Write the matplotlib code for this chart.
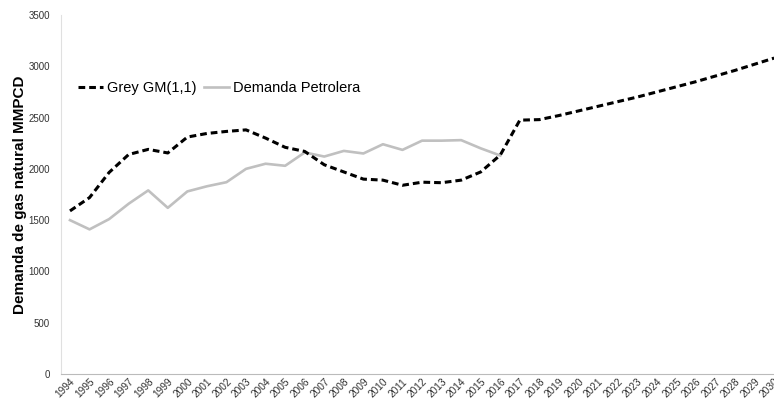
import matplotlib
matplotlib.use("Agg")
import matplotlib.pyplot as plt
import numpy as np

plt.rcParams['font.family'] = ['Liberation Sans', 'DejaVu Sans']

years = list(range(1994, 2031))
grey_gm = [1590, 1720, 1965, 2140, 2190, 2155, 2310, 2345, 2365, 2380, 2300, 2210,
           2170, 2040, 1970, 1900, 1890, 1840, 1870, 1865, 1890, 1970, 2135,
           2475, 2480, 2520, 2565, 2610, 2655, 2700, 2750, 2800, 2850, 2905,
           2960, 3020, 3080]
dem_years = list(range(1994, 2017))
demanda = [1500, 1410, 1510, 1660, 1790, 1620, 1780, 1830, 1870, 2000, 2050, 2030,
           2160, 2120, 2175, 2150, 2240, 2185, 2275, 2275, 2280, 2200, 2130]

fig = plt.figure(figsize=(7.74, 4.0), dpi=100)
ax = fig.add_axes([0.0788, 0.065, 0.934, 0.8975])

ax.plot(dem_years, demanda, color='#c0c0c0', lw=1.9, label='Demanda Petrolera', zorder=2)
ax.plot(years, grey_gm, color='black', lw=2.2, ls=(0, (2.2, 1.3)), label='Grey GM(1,1)', zorder=3)

ax.set_xlim(1993.54, 2030.5)
ax.set_ylim(0, 3500)
ax.set_yticks(np.arange(0, 3501, 500))
ax.set_xticks(years)
ax.set_xticklabels([str(y) for y in years], rotation=45, ha='right',
                   rotation_mode='anchor', fontsize=7.3, color='#333333')
ax.tick_params(axis='y', labelsize=7, colors='#333333', length=0, pad=8)
ax.tick_params(axis='x', length=0, pad=2)

for s in ['top', 'right']:
    ax.spines[s].set_visible(False)
ax.spines['left'].set_color('#e0e0e0')
ax.spines['bottom'].set_color('#bbbbbb')

ax.set_ylabel('Demanda de gas natural MMPCD', fontsize=11, fontweight='bold', labelpad=1)

h, l = ax.get_legend_handles_labels()
ax.legend(h[::-1], l[::-1], loc='upper left', bbox_to_anchor=(0.005, 0.852), ncol=2,
          frameon=False, fontsize=10.5, handlelength=1.75, handletextpad=0.25,
          columnspacing=0.5)

fig.savefig('out.png', dpi=100)
